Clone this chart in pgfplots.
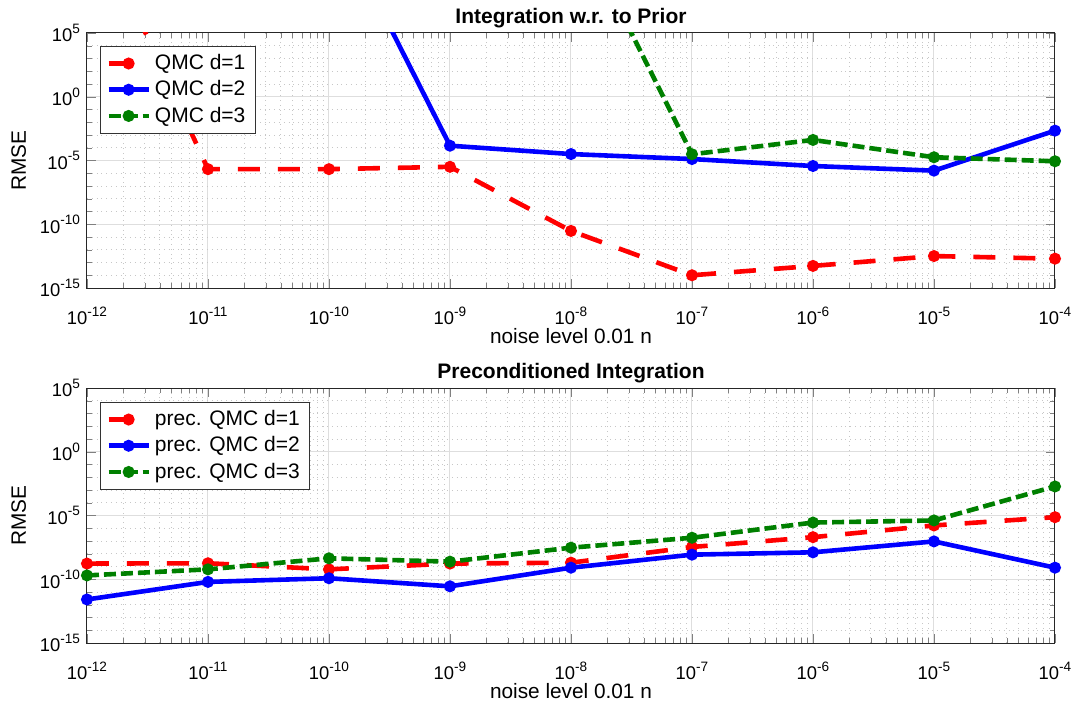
\documentclass[border=0pt]{standalone}
\usepackage{fontspec}
\setmainfont{Liberation Sans}
\usepackage{pgfplots}
\pgfplotsset{compat=1.18}
\definecolor{mred}{rgb}{1,0,0}
\definecolor{mblue}{rgb}{0,0,1}
\definecolor{mgreen}{rgb}{0,0.5,0}
\newcommand{\tp}[1]{10\raisebox{0.45em}{\fontsize{6.8}{7}\selectfont #1}}

\pgfplotsset{
  mstyle/.style={
    scale only axis, width=484pt, height=127.5pt,
    xmin=1e-12, xmax=1e-4, ymin=1e-15, ymax=1e5,
    xtick={1e-12,1e-11,1e-10,1e-9,1e-8,1e-7,1e-6,1e-5,1e-4},
    xticklabels={\tp{-12},\tp{-11},\tp{-10},\tp{-9},\tp{-8},\tp{-7},\tp{-6},\tp{-5},\tp{-4}},
    ytick={1e-15,1e-10,1e-5,1,1e5},
    yticklabels={\tp{-15},\tp{-10},\tp{-5},\tp{0},\tp{5}},
    minor xtick={2e-12,3e-12,4e-12,5e-12,6e-12,7e-12,8e-12,9e-12,
                 2e-11,3e-11,4e-11,5e-11,6e-11,7e-11,8e-11,9e-11,
                 2e-10,3e-10,4e-10,5e-10,6e-10,7e-10,8e-10,9e-10,
                 2e-9,3e-9,4e-9,5e-9,6e-9,7e-9,8e-9,9e-9,
                 2e-8,3e-8,4e-8,5e-8,6e-8,7e-8,8e-8,9e-8,
                 2e-7,3e-7,4e-7,5e-7,6e-7,7e-7,8e-7,9e-7,
                 2e-6,3e-6,4e-6,5e-6,6e-6,7e-6,8e-6,9e-6,
                 2e-5,3e-5,4e-5,5e-5,6e-5,7e-5,8e-5,9e-5},
    minor ytick={1e-14,1e-13,1e-12,1e-11,1e-9,1e-8,1e-7,1e-6,1e-4,1e-3,1e-2,1e-1,1e1,1e2,1e3,1e4},
    grid=both,
    major grid style={black!13, line width=0.5pt},
    minor grid style={black!22, dotted, line width=0.4pt},
    tick align=inside, tick pos=both,
    major tick length=4.5pt, minor tick length=2.5pt,
    axis line style={black!85, line width=0.5pt},
    tick label style={font=\fontsize{9.2}{10}\selectfont},
    xticklabel style={yshift=-6pt},
    label style={font=\fontsize{10.4}{12}\selectfont},
    xlabel style={yshift=5pt},
    title style={font=\bfseries\fontsize{10.5}{12}\selectfont, yshift=-7pt},
    xlabel={noise level 0.01 n}, ylabel={RMSE},
    legend cell align=left,
    legend style={font=\fontsize{10.5}{12}\selectfont, draw=black!80,
      fill=white, anchor=north west},
    every axis plot/.append style={line width=2.3pt, mark=*, mark size=1.8pt,
      mark options={solid}},
  },
  sred/.style={color=mred, dash pattern=on 11pt off 9pt},
  sblue/.style={color=mblue, solid},
  sgreen/.style={color=mgreen, dash pattern=on 6pt off 2.5pt},
}
\pgfplotsset{legend image code/.code={\draw[mark repeat=2,mark phase=2,#1]
      plot coordinates {(0pt,0pt) (10pt,0pt) (20pt,0pt)};}}

\begin{document}
\begin{tikzpicture}
\useasboundingbox (0,0) rectangle (535.5pt,-351pt);

% top panel
\begin{loglogaxis}[mstyle, at={(43.5pt,-144pt)}, anchor=south west,
  title={Integration w.r. to Prior},
  legend style={at={(0.0134,0.949)}}]
  \addplot[sred] coordinates {
    (1e-12,1e15) (1e-11,2.1e-6) (1e-10,2.1e-6) (1e-9,3.2e-6) (1e-8,3.0e-11)
    (1e-7,1.0e-14) (1e-6,5.4e-14) (1e-5,3.2e-13) (1e-4,2.0e-13)};
  \addplot[sblue] coordinates {
    (1e-12,1e16) (1e-11,1e16) (1e-10,8e14) (1e-9,1.45e-4) (1e-8,3.2e-5)
    (1e-7,1.3e-5) (1e-6,3.7e-6) (1e-5,1.6e-6) (1e-4,2.2e-3)};
  \addplot[sgreen] coordinates {
    (1e-12,1e16) (1e-11,1e16) (1e-10,1e16) (1e-9,1e16) (1e-8,3e14)
    (1e-7,3.1e-5) (1e-6,4.1e-4) (1e-5,1.8e-5) (1e-4,8.7e-6)};
  \legend{QMC d=1,QMC d=2,QMC d=3}
\end{loglogaxis}

% bottom panel
\begin{loglogaxis}[mstyle, at={(43.5pt,-321.5pt)}, anchor=south west,
  title={Preconditioned Integration},
  legend style={at={(0.0134,0.945)}}]
  \addplot[sred] coordinates {
    (1e-12,1.7e-9) (1e-11,1.8e-9) (1e-10,6.0e-10) (1e-9,1.7e-9) (1e-8,2.0e-9)
    (1e-7,3.4e-8) (1e-6,2.0e-7) (1e-5,1.66e-6) (1e-4,7.4e-6)};
  \addplot[sblue] coordinates {
    (1e-12,2.6e-12) (1e-11,6.2e-11) (1e-10,1.2e-10) (1e-9,2.8e-11) (1e-8,8.1e-10)
    (1e-7,8.5e-9) (1e-6,1.3e-8) (1e-5,9.3e-8) (1e-4,8.1e-10)};
  \addplot[sgreen] coordinates {
    (1e-12,2.0e-10) (1e-11,6.0e-10) (1e-10,4.4e-9) (1e-9,2.4e-9) (1e-8,3.0e-8)
    (1e-7,1.8e-7) (1e-6,2.8e-6) (1e-5,4.1e-6) (1e-4,1.9e-3)};
  \legend{prec. QMC d=1,prec. QMC d=2,prec. QMC d=3}
\end{loglogaxis}
\end{tikzpicture}
\end{document}
